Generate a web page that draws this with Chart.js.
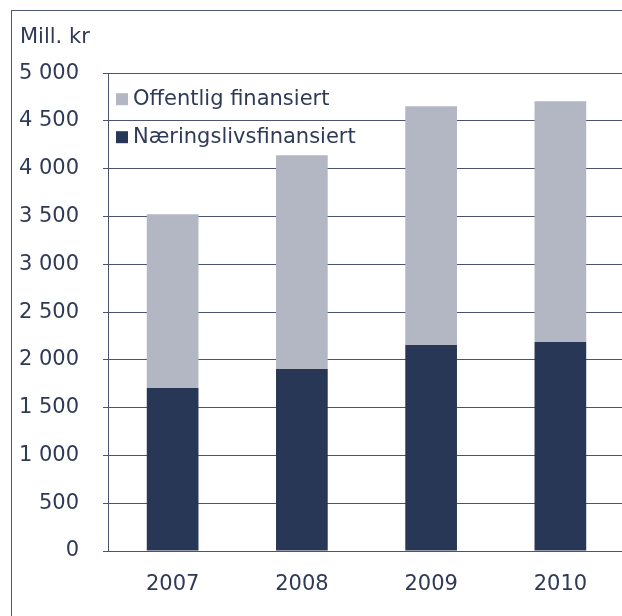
<!DOCTYPE html>
<html>
<head>
<meta charset="utf-8">
<script src="https://cdn.jsdelivr.net/npm/chart.js@4"></script>
<style>
  html, body { margin: 0; overflow: hidden; }
  body { width: 622px; height: 616px; background: #fff; position: relative; }
  .edge { position: absolute; background: #4f5872; }
  #edgeTop { left: 11px; top: 10px; width: 611px; height: 1px; }
  #edgeLeft { left: 11px; top: 10px; width: 1px; height: 606px; }
  #wrap { position: absolute; left: 0; top: 0; width: 640px; height: 616px; }
</style>
</head>
<body>
<div class="edge" id="edgeTop"></div>
<div class="edge" id="edgeLeft"></div>
<div id="wrap"><canvas id="chart"></canvas></div>
<script>
// -------- DATA ----------
const years = ["2007", "2008", "2009", "2010"];
const naeringsliv = [1705, 1904, 2155, 2186];
const offentlig = [1820, 2238, 2500, 2521];
const seriesNames = ["Næringslivsfinansiert", "Offentlig finansiert"];

const dark = "#293756";
const light = "#b3b7c3";
const textColor = "#2e3a56";
const gridColor = "#4a546f";
const fontFamily = "'DejaVu Sans', Verdana, sans-serif";
const fontSize = 21;

function spaced(v) {
    return String(v).replace(/\B(?=(\d{3})+(?!\d))/g, " ");
}

// legend drawn inside the plot area, top-left, last dataset first
const innerLegend = {
    id: "innerLegend",
    afterDraw(chart) {
        const ctx = chart.ctx;
        const area = chart.chartArea;
        const sets = chart.data.datasets.slice().reverse();
        ctx.save();
        ctx.font = fontSize + "px " + fontFamily;
        ctx.textBaseline = "middle";
        sets.forEach((ds, i) => {
            const cy = area.top + 26 + i * 38;
            ctx.fillStyle = ds.backgroundColor;
            ctx.fillRect(area.left + 8, cy - 6, 12, 12);
            ctx.fillStyle = textColor;
            ctx.fillText(ds.label, area.left + 25, cy);
        });
        ctx.restore();
    }
};

new Chart(document.getElementById("chart"), {
    type: "bar",
    data: {
        labels: years,
        datasets: [
            { label: seriesNames[0], data: naeringsliv, backgroundColor: dark, borderWidth: 0 },
            { label: seriesNames[1], data: offentlig, backgroundColor: light, borderWidth: 0 }
        ]
    },
    options: {
        responsive: true,
        maintainAspectRatio: false,
        animation: false,
        layout: { padding: { left: 20, right: 15, top: 0, bottom: 0 } },
        datasets: { bar: { categoryPercentage: 1, barPercentage: 0.4 } },
        scales: {
            x: {
                stacked: true,
                grid: { display: false, drawTicks: false },
                border: { display: true, color: gridColor, width: 1 },
                ticks: { color: textColor, padding: 21, font: { size: fontSize, family: fontFamily } },
                afterFit: (s) => { s.height = 65; }
            },
            y: {
                stacked: true,
                min: 0,
                max: 5000,
                grid: { color: gridColor, lineWidth: 1, tickLength: 5, drawTicks: true },
                border: { display: true, color: gridColor, width: 1 },
                ticks: {
                    stepSize: 500,
                    color: textColor,
                    padding: 24,
                    font: { size: fontSize, family: fontFamily },
                    callback: (v) => spaced(v)
                },
                afterFit: (s) => { s.width = 88; }
            }
        },
        plugins: {
            legend: { display: false },
            tooltip: { enabled: false },
            title: {
                display: true,
                text: "Mill. kr",
                align: "start",
                color: textColor,
                font: { size: fontSize, family: fontFamily, weight: "normal" },
                padding: { top: 25, bottom: 23 }
            }
        }
    },
    plugins: [innerLegend]
});
</script>
</body>
</html>
